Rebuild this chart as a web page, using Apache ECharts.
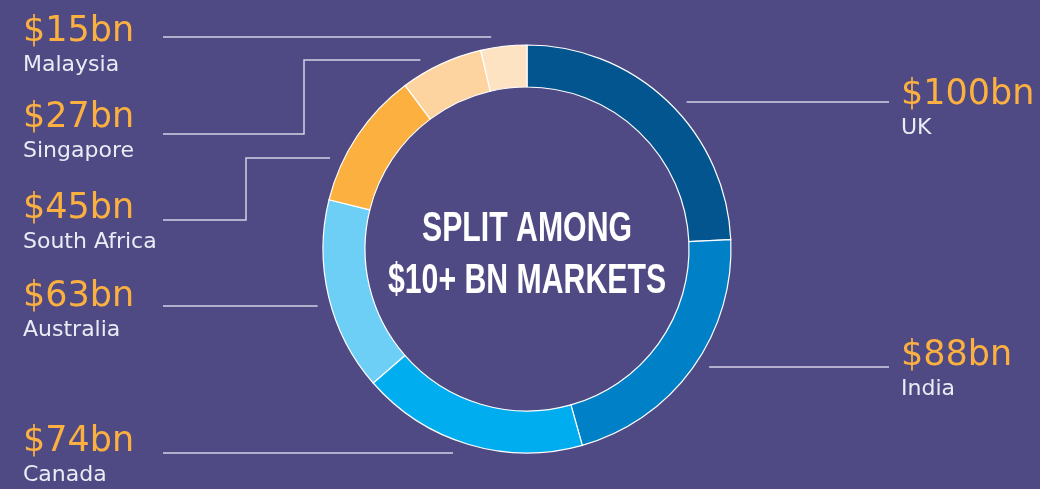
<!DOCTYPE html>
<html>
<head>
<meta charset="utf-8">
<script src="https://cdn.jsdelivr.net/npm/echarts@6/dist/echarts.min.js"></script>
<style>
  html, body { margin: 0; padding: 0; background: #4f4a84; }
  #main { width: 1040px; height: 489px; }
</style>
</head>
<body>
<div id="main"></div>
<script>
// market sizes, $bn
var markets = ['UK', 'India', 'Canada', 'Australia', 'South Africa', 'Singapore', 'Malaysia'];
var values = [100, 88, 74, 63, 45, 27, 15];
var colors = ['#02558f', '#0080c6', '#00aeef', '#6dcff6', '#fbb040', '#fdd49f', '#fee3c3'];

// label placement (layout only)
var slots = [
    {side: 1, top: 77, lineY: 102},
    {side: 1, top: 338, lineY: 367},
    {side: -1, top: 424, lineY: 453},
    {side: -1, top: 279, lineY: 306},
    {side: -1, top: 191, lineY: 220, elbowX: 246, elbowY: 158},
    {side: -1, top: 100, lineY: 134, elbowX: 304, elbowY: 60},
    {side: -1, top: 14, lineY: 37, gap: 11}
];

var CX = 527, CY = 249, R_IN = 162, R_OUT = 204, GAP = 13;

function ringX(y, side, gap) {
    var r = R_OUT + (gap || GAP);
    var dy = y - CY;
    var dx = Math.sqrt(Math.max(r * r - dy * dy, 0));
    return CX + side * dx;
}

var chart = echarts.init(document.getElementById('main'));

var data = markets.map(function (name, i) {
    return {name: name, value: values[i], itemStyle: {color: colors[i]}};
});

chart.setOption({
    backgroundColor: '#4f4a84',
    animation: false,
    graphic: [{
        type: 'text',
        z: 100,
        x: CX,
        y: CY + 6,
        scaleX: 0.72,
        style: {
            text: 'SPLIT AMONG\n$10+ BN MARKETS',
            fill: '#ffffff',
            font: 'bold 42px "Liberation Sans", Arial, sans-serif',
            lineHeight: 52,
            align: 'center',
            verticalAlign: 'middle'
        }
    }],
    series: [{
        type: 'pie',
        silent: true,
        center: [CX, CY],
        radius: [R_IN, R_OUT],
        startAngle: 90,
        clockwise: true,
        avoidLabelOverlap: false,
        itemStyle: {borderColor: '#ffffff', borderWidth: 1.2},
        label: {
            show: true,
            position: 'outside',
            formatter: function (p) {
                return '{v|$' + p.value + 'bn}\n{n|' + p.name + '}';
            },
            rich: {
                v: {color: '#fbb040', fontSize: 35, fontFamily: '"DejaVu Sans"', lineHeight: 36},
                n: {color: '#ebebf5', fontSize: 22, fontFamily: '"DejaVu Sans"', lineHeight: 30}
            }
        },
        labelLine: {
            show: true,
            lineStyle: {color: '#d4d2e6', width: 1.5}
        },
        labelLayout: function (p) {
            var s = slots[p.dataIndex];
            var pts;
            if (s.side < 0) {
                if (s.elbowY != null) {
                    pts = [[ringX(s.elbowY, -1, s.gap), s.elbowY], [s.elbowX, s.elbowY], [s.elbowX, s.lineY], [163, s.lineY]];
                } else {
                    var x0 = ringX(s.lineY, -1, s.gap);
                    pts = [[x0, s.lineY], [x0, s.lineY], [163, s.lineY]];
                }
            } else {
                var x1 = ringX(s.lineY, 1, s.gap);
                pts = [[x1, s.lineY], [x1, s.lineY], [889, s.lineY]];
            }
            return {
                x: s.side < 0 ? 23 : 901,
                y: s.top,
                align: 'left',
                verticalAlign: 'top',
                labelLinePoints: pts
            };
        },
        data: data
    }]
});
</script>
</body>
</html>
